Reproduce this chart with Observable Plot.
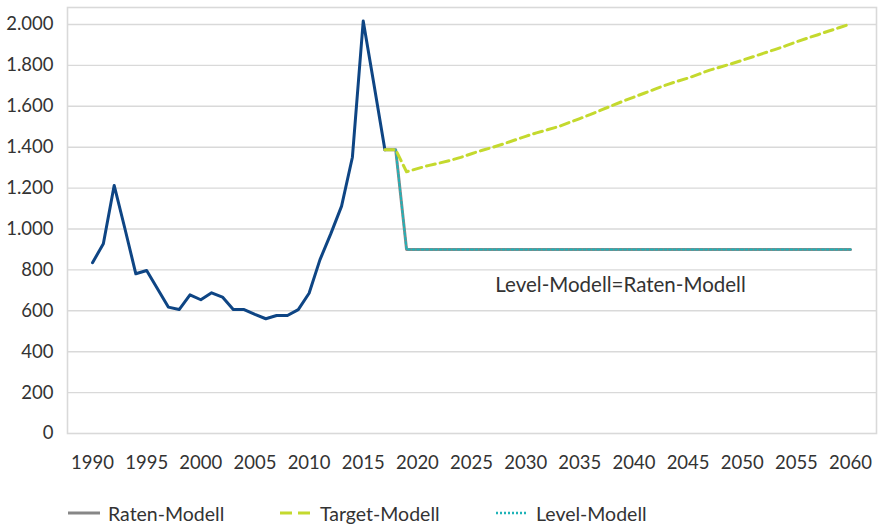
<!DOCTYPE html>
<html>
<head>
<meta charset="utf-8">
<script src="https://cdn.jsdelivr.net/npm/d3@7"></script>
<script src="https://cdn.jsdelivr.net/npm/@observablehq/plot@0.6"></script>
<style>
  html, body { margin: 0; padding: 0; background: #fff; }
  #wrap { position: relative; width: 880px; height: 525px; font-family: Lato, "Open Sans", sans-serif; color: #333; }
  #legend { position: absolute; left: 0; top: 480px; width: 880px; height: 45px; font-size: 19.5px; }
  .item { position: absolute; top: 22px; display: flex; align-items: center; height: 22px; }
  .item svg { margin-right: 8px; }
</style>
</head>
<body>
<div id="wrap">
  <div id="chart"></div>
  <div id="legend"></div>
</div>
<script>
// ---- data ----
const histYears  = [1990,1991,1992,1993,1994,1995,1996,1997,1998,1999,2000,2001,2002,2003,2004,2005,2006,2007,2008,2009,2010,2011,2012,2013,2014,2015,2016,2017];
const histValues = [835, 928, 1213,1000, 781, 797, 708, 618, 606, 678, 654, 688, 667, 606, 606, 582, 561, 577, 577, 606, 686, 849, 976, 1112,1351,2017,1704,1387];

const rateYears  = [2017, 2018, 2019, 2060];
const rateValues = [1387, 1387, 900, 900];

const levelYears  = [2017, 2018, 2019, 2060];
const levelValues = [1387, 1387, 900, 900];

const targetYears  = [2017,2018,2019,2020,2021,2022,2023,2024,2025,2026,2027,2028,2029,2030,2031,2032,2033,2034,2035,2036,2037,2038,2039,2040,2041,2042,2043,2044,2045,2046,2047,2048,2049,2050,2051,2052,2053,2054,2055,2056,2057,2058,2059,2060];
const targetValues = [1387,1387,1280,1295,1310,1322,1335,1350,1368,1385,1400,1417,1435,1453,1470,1485,1500,1520,1540,1560,1582,1604,1625,1645,1665,1685,1705,1722,1738,1757,1777,1792,1808,1825,1842,1860,1877,1895,1915,1933,1950,1968,1985,2003];

const xTicks = [1990,1995,2000,2005,2010,2015,2020,2025,2030,2035,2040,2045,2050,2055,2060];
const yTicks = [0,200,400,600,800,1000,1200,1400,1600,1800,2000];

const seriesNames = ["Raten-Modell", "Target-Modell", "Level-Modell"];
const annotation = [{year: 2027.2, value: 724, label: "Level-Modell=Raten-Modell"}];

// ---- build tables ----
const hist   = histYears.map((y, i) => ({year: y, value: histValues[i]}));
const rate   = rateYears.map((y, i) => ({year: y, value: rateValues[i]}));
const level  = levelYears.map((y, i) => ({year: y, value: levelValues[i]}));
const target = targetYears.map((y, i) => ({year: y, value: targetValues[i]}));

const colors = {blue: "#0e4584", gray: "#878787", green: "#c4d92e", teal: "#1fb3b8", grid: "#d9d9d9"};

const de = d3.formatLocale({decimal: ",", thousands: ".", grouping: [3], currency: ["", " €"]});
const fmt = de.format(",d");

const chart = Plot.plot({
  width: 880,
  height: 480,
  marginLeft: 67,
  marginRight: 4,
  marginTop: 7,
  marginBottom: 47,
  style: {fontFamily: "Lato, 'Open Sans', sans-serif", fontSize: "18.5px", color: "#333", background: "#fff"},
  x: {domain: [1987.69, 2062.4], ticks: xTicks, tickFormat: d => String(d), tickSize: 0, tickPadding: 22, label: null},
  y: {domain: [0, 2083], ticks: yTicks, tickFormat: fmt, tickSize: 0, tickPadding: 14, label: null},
  marks: [
    Plot.ruleY(yTicks.filter(v => v > 0), {stroke: colors.grid, strokeWidth: 1.4}),
    Plot.frame({stroke: colors.grid, strokeWidth: 1.6}),
    Plot.line(hist, {x: "year", y: "value", stroke: colors.blue, strokeWidth: 3}),
    Plot.line(rate, {x: "year", y: "value", stroke: colors.gray, strokeWidth: 3}),
    Plot.line(level, {x: "year", y: "value", stroke: colors.teal, strokeWidth: 2, strokeDasharray: "2,2.5"}),
    Plot.line(target, {x: "year", y: "value", stroke: colors.green, strokeWidth: 3, strokeDasharray: "9,5"}),
    Plot.text(annotation, {x: "year", y: "value", text: "label", textAnchor: "start", fill: "#333", fontSize: 20.5})
  ]
});
document.getElementById("chart").appendChild(chart);

// ---- legend ----
const legendDefs = [
  {name: seriesNames[0], left: 68, stroke: colors.gray, dash: null, width: 3},
  {name: seriesNames[1], left: 280, stroke: colors.green, dash: "12,6", width: 3},
  {name: seriesNames[2], left: 496, stroke: colors.teal, dash: "2,2", width: 2.5}
];
const legend = document.getElementById("legend");
legendDefs.forEach(d => {
  const item = document.createElement("div");
  item.className = "item";
  item.style.left = d.left + "px";
  item.innerHTML = `<svg width="32" height="10"><line x1="0" y1="5" x2="32" y2="5" stroke="${d.stroke}" stroke-width="${d.width}" ${d.dash ? `stroke-dasharray="${d.dash}"` : ""}/></svg><span>${d.name}</span>`;
  legend.appendChild(item);
});
</script>
</body>
</html>
